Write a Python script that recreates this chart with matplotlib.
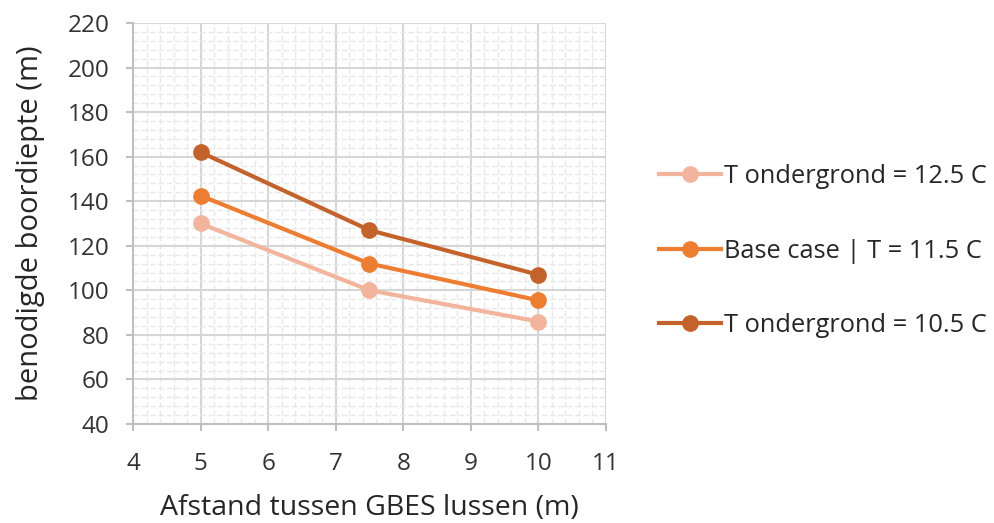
import matplotlib
matplotlib.use("Agg")
import matplotlib.pyplot as plt
from matplotlib.ticker import MultipleLocator

plt.rcParams['font.family'] = ['Open Sans', 'DejaVu Sans']

afstand = [5, 7.5, 10]
t_12_5 = [130, 100, 86]
base_11_5 = [142.5, 112, 95.5]
t_10_5 = [162, 127, 107]

labels = ["T ondergrond = 12.5 C", "Base case | T = 11.5 C", "T ondergrond = 10.5 C"]
colors = ["#F2B49C", "#ED7D31", "#C4622B"]

fig = plt.figure(figsize=(9.95, 5.23), dpi=100)
ax = fig.add_axes([133/995, 1 - 424/523, (606 - 133)/995, (424 - 23)/523])

ax.set_xlim(4, 11)
ax.set_ylim(40, 220)
ax.xaxis.set_major_locator(MultipleLocator(1))
ax.xaxis.set_minor_locator(MultipleLocator(0.2))
ax.yaxis.set_major_locator(MultipleLocator(20))
ax.yaxis.set_minor_locator(MultipleLocator(4))

ax.grid(which='minor', color='#E8E8E8', linewidth=1.0, linestyle=(0, (4, 2)))
ax.grid(which='major', color='#D6D6D6', linewidth=1.5)
ax.set_axisbelow(True)

for s in ['top', 'right']:
    ax.spines[s].set_visible(False)
for s in ['left', 'bottom']:
    ax.spines[s].set_color('#BFBFBF')
    ax.spines[s].set_linewidth(1.5)

ax.tick_params(which='major', length=5, width=1.5, color='#BFBFBF',
               labelsize=17.5, labelcolor='#333333')
ax.tick_params(axis='x', which='major', pad=15)
ax.tick_params(axis='y', which='major', pad=12)
ax.tick_params(which='minor', length=0)

handles = []
for ys, c, lab in zip([t_12_5, base_11_5, t_10_5], colors, labels):
    h, = ax.plot(afstand, ys, color=c, linewidth=3, marker='o', markersize=11,
                 label=lab, clip_on=False, zorder=3)
    handles.append(h)

ax.set_xlabel("Afstand tussen GBES lussen (m)", fontsize=20.5, color='#262626', labelpad=13)
ax.set_ylabel("benodigde boordiepte (m)", fontsize=21, color='#262626', labelpad=16)

fig.legend(handles=handles, labels=labels, loc='center left',
           bbox_to_anchor=(0.662, 0.520), frameon=False, fontsize=18.3,
           labelspacing=1.95, handlelength=2.45, handletextpad=0.12,
           borderaxespad=0, borderpad=0, labelcolor='#262626')

fig.savefig("out.png", dpi=100)
